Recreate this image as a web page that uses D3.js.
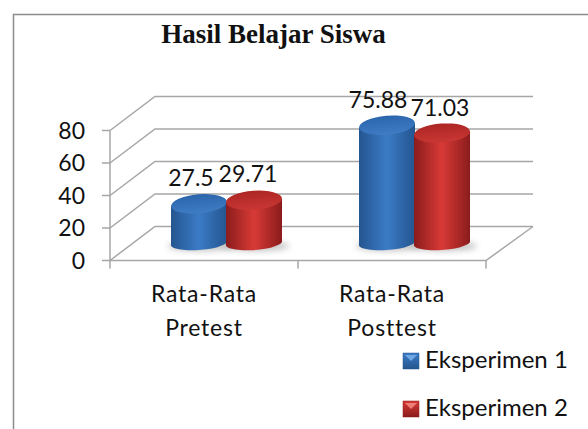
<!DOCTYPE html>
<html>
<head>
<meta charset="utf-8">
<script src="https://cdn.jsdelivr.net/npm/d3@7/dist/d3.min.js"></script>
<style>
html, body { margin: 0; padding: 0; background: #fff; }
svg { display: block; }
text { font-family: Lato, "Open Sans", sans-serif; fill: #111; }
</style>
</head>
<body>
<div id="chart"></div>
<script>
// chart values
const categories = [["Rata-Rata", "Pretest"], ["Rata-Rata", "Posttest"]];
const seriesNames = ["Eksperimen 1", "Eksperimen 2"];
const eksperimen1 = [27.5, 75.88];
const eksperimen2 = [29.71, 71.03];
const seriesValues = [eksperimen1, eksperimen2];
const valueLabels = [["27.5", "75.88"], ["29.71", "71.03"]];
const yTicks = [0, 20, 40, 60, 80];

const width = 588, height = 429;
const depthX = 45, depthY = -34;

const svg = d3.select("#chart").append("svg")
    .attr("width", width)
    .attr("height", height);

const defs = svg.append("defs");

const palette = [
    { dark: "#24558f", mid: "#3b7bc6", top: "#2b66ac", topEdge: "#3f7cc4", light: "#6fa6e4" },
    { dark: "#8a1c1c", mid: "#d83a36", top: "#ad2624", topEdge: "#c93733", light: "#ee7f78" }
];

palette.forEach((p, i) => {
    const g = defs.append("linearGradient").attr("id", "side" + i);
    g.append("stop").attr("offset", "0%").attr("stop-color", p.dark);
    g.append("stop").attr("offset", "50%").attr("stop-color", p.mid);
    g.append("stop").attr("offset", "100%").attr("stop-color", p.dark);
    const t = defs.append("linearGradient").attr("id", "cap" + i)
        .attr("x1", 0).attr("y1", 0).attr("x2", 0).attr("y2", 1);
    t.append("stop").attr("offset", "0%").attr("stop-color", p.top);
    t.append("stop").attr("offset", "100%").attr("stop-color", p.topEdge);
    const s = defs.append("linearGradient").attr("id", "swatch" + i)
        .attr("x1", 0).attr("y1", 0).attr("x2", 0).attr("y2", 1);
    s.append("stop").attr("offset", "0%").attr("stop-color", p.mid);
    s.append("stop").attr("offset", "100%").attr("stop-color", p.dark);
});

defs.append("filter").attr("id", "blur")
    .attr("x", "-30%").attr("y", "-80%").attr("width", "160%").attr("height", "260%")
    .append("feGaussianBlur").attr("stdDeviation", 3);

// outer frame, the crop cuts off the right and bottom sides
svg.append("path")
    .attr("d", "M13.5,429V14.5H588")
    .attr("fill", "none")
    .attr("stroke", "#8c8c8c")
    .attr("stroke-width", 1.5);

const x = d3.scaleBand().domain(d3.range(categories.length)).range([110, 486]);
const y = d3.scaleLinear().domain([0, 80]).range([260.5, 130.5]);

// back grid and side walls
const grid = svg.append("g").attr("stroke", "#a6a6a6").attr("stroke-width", 1.5).attr("fill", "none");
yTicks.forEach(t => {
    grid.append("path")
        .attr("d", `M${x.range()[0]},${y(t)}L${x.range()[0] + depthX},${y(t) + depthY}H${x.range()[1] + depthX + 2}`);
    grid.append("line")
        .attr("x1", x.range()[0] - 8).attr("x2", x.range()[0])
        .attr("y1", y(t)).attr("y2", y(t));
});
grid.append("path").attr("d", `M${x.range()[0]},${y(80)}V${y(0) + 8}`);
grid.append("path").attr("d", `M${x.range()[0]},${y(0)}H${x.range()[1]}L${x.range()[1] + depthX + 2},${y(0) + depthY}`);
[1, 2].forEach(i => {
    grid.append("line")
        .attr("x1", x.range()[0] + i * x.bandwidth()).attr("x2", x.range()[0] + i * x.bandwidth())
        .attr("y1", y(0)).attr("y2", y(0) + 8);
});

// y tick labels
svg.append("g").selectAll("text").data(yTicks).join("text")
    .attr("x", 85).attr("y", d => y(d) + 8)
    .attr("text-anchor", "end")
    .attr("font-size", 23)
    .text(d => d);

// cylinders
const barWidth = 56;
const baseShift = -12;
const labelDx = [[-8, -9], [-6, -2]];

categories.forEach((c, ci) => {
    const left = x(ci) + x.bandwidth() / 2 - 33;
    seriesValues.forEach((vals, si) => {
        const x0 = left + si * (barWidth - 1);
        const xc = x0 + barWidth / 2;
        const yTop = y(vals[ci]) + baseShift;
        const tilt = si === 0 ? -5 : -4;
        const rx = barWidth / 2, ry = 9.5;

        // floor shadow
        svg.append("ellipse")
            .attr("cx", xc + 2).attr("cy", 246)
            .attr("rx", rx + 5).attr("ry", 5)
            .attr("fill", "#777").attr("opacity", 0.45)
            .attr("filter", "url(#blur)");

        // body with rounded bottom
        svg.append("path")
            .attr("d", `M${x0},${yTop + 2}V244A${rx},7 -4 0 0 ${x0 + barWidth},242V${yTop - 2}Z`)
            .attr("fill", `url(#side${si})`);

        // top cap
        svg.append("ellipse")
            .attr("cx", xc).attr("cy", yTop)
            .attr("rx", rx).attr("ry", ry)
            .attr("transform", `rotate(${tilt},${xc},${yTop})`)
            .attr("fill", `url(#cap${si})`);

        // value label
        svg.append("text")
            .attr("x", xc + labelDx[si][ci])
            .attr("y", yTop - ry - 8 + (si === 1 && ci === 0 ? -1 : 0))
            .attr("text-anchor", "middle")
            .attr("font-size", 23)
            .text(valueLabels[si][ci]);
    });

    // category label
    c.forEach((line, li) => {
        svg.append("text")
            .attr("x", x(ci) + x.bandwidth() / 2)
            .attr("y", 302 + li * 34)
            .attr("text-anchor", "middle")
            .attr("font-size", 23)
            .attr("letter-spacing", 0.8)
            .text(line);
    });
});

// title
svg.append("text")
    .attr("x", 273.5).attr("y", 43)
    .attr("text-anchor", "middle")
    .style("font-family", "'Liberation Serif', serif")
    .style("font-weight", "bold")
    .attr("font-size", 27)
    .text("Hasil Belajar Siswa");

// legend
seriesNames.forEach((name, i) => {
    const ly = 353 + i * 48;
    const swatch = svg.append("g").attr("transform", `translate(403,${ly})`);
    swatch.append("rect")
        .attr("width", 16).attr("height", 16)
        .attr("fill", `url(#swatch${i})`)
        .attr("stroke", palette[i].dark).attr("stroke-width", 0.5);
    swatch.append("path")
        .attr("d", "M2,2H14L8,8Z")
        .attr("fill", palette[i].light);
    svg.append("text")
        .attr("x", 425).attr("y", ly + 15)
        .attr("font-size", 24)
        .text(name);
});
</script>
</body>
</html>
